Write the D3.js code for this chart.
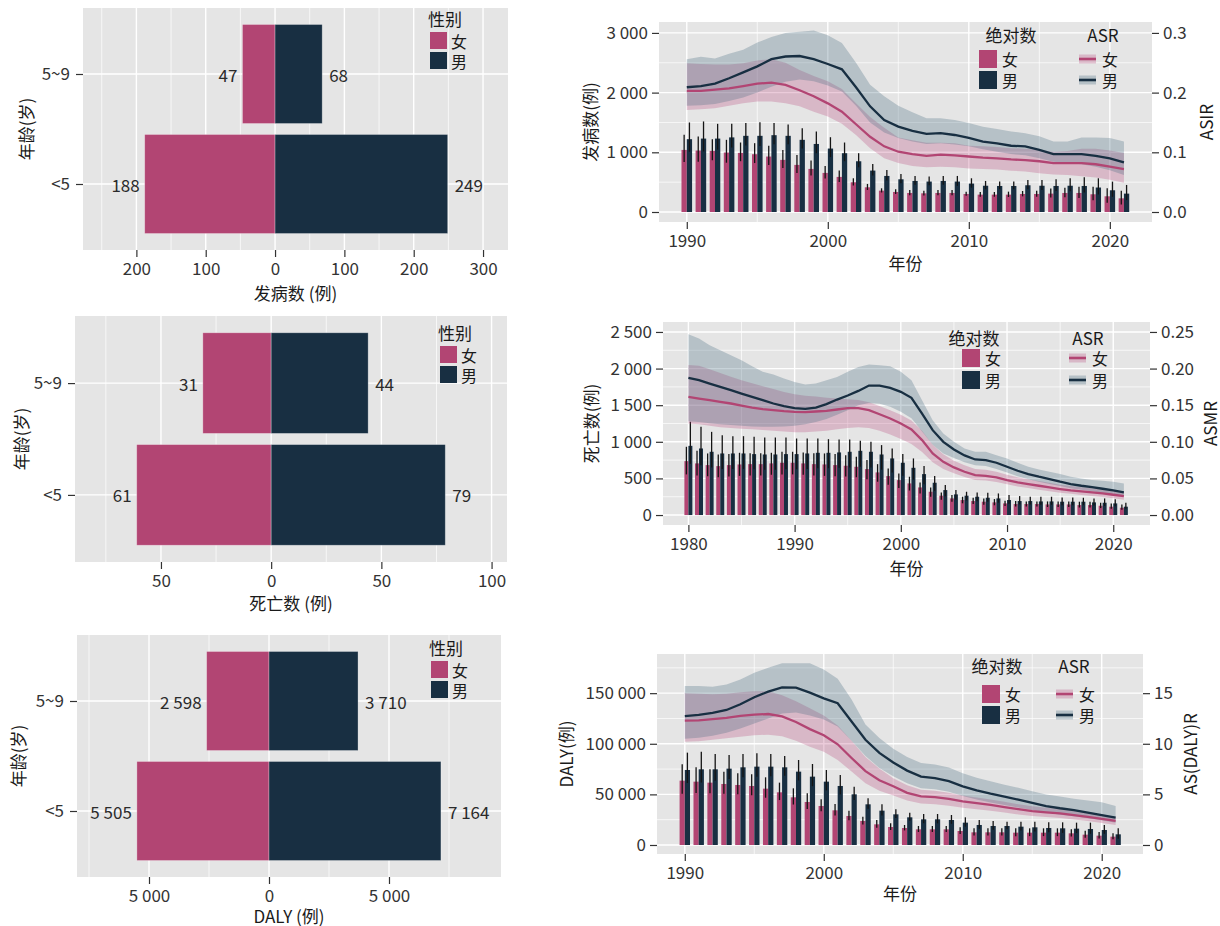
<!DOCTYPE html>
<html>
<head>
<meta charset="utf-8">
<script src="https://cdn.jsdelivr.net/npm/d3@7"></script>
<style>
  body { margin: 0; background: #fff; }
  svg text { font-family: "Noto Sans CJK SC", "Noto Sans", sans-serif; }
</style>
</head>
<body>
<svg id="chart" width="1220" height="926"></svg>
<script>
// ---------- age-group totals (butterfly panels) ----------
const AGES = ["5~9", "<5"];
const incAgeF = [47, 188];
const incAgeM = [68, 249];
const dthAgeF = [31, 61];
const dthAgeM = [44, 79];
const dalyAgeF = [2598, 5505];
const dalyAgeM = [3710, 7164];

// ---------- incidence by year, 1990–2021 ----------
const incYears = d3.range(1990, 2022);
const incF   = [1040,1030,1024,996,990,968,929,873,789,722, 655,588,498,414,358,336,319,313,319,319, 302,291,291,291,302,302,308,319,319,297, 263,229];
const incFHi = [1293,1265,1220,1209,1164,1153,1108,1040,957,862, 772,694,565,470,397,380,369,358,369,369, 341,335,335,341,352,358,392,408,425,425, 397,358];
const incFLo = [838,842,867,826,851,820,786,739,655,610, 561,503,444,369,327,301,279,277,279,279, 271,256,256,251,262,257,241,248,234,195, 156,126];
const incM   = [1220,1230,1230,1250,1276,1276,1287,1276,1209,1140, 1063,985,850,694,604,548,520,510,520,510, 476,440,436,436,448,440,436,440,436,410, 364,308];
const incMHi = [1500,1517,1477,1477,1489,1505,1489,1466,1405,1349, 1253,1164,985,806,705,638,604,593,604,604, 565,520,509,509,537,537,548,565,582,565, 509,453];
const incMLo = [1010,1015,1045,1080,1116,1104,1136,1133,1062,983, 920,851,749,610,528,480,457,448,457,439, 409,380,381,381,381,367,352,346,326,294, 255,199];
const incAsrF   = [.203,.203,.205,.207,.211,.215,.2166,.213,.204,.194, .182,.168,.147,.126,.110,.101,.097,.094,.096,.095, .093,.091,.090,.088,.087,.085,.082,.082,.082,.080, .076,.072];
const incAsrFHi = [.249,.248,.247,.247,.249,.254,.256,.250,.238,.228, .219,.206,.182,.159,.141,.125,.120,.116,.116,.115, .111,.110,.109,.107,.106,.104,.101,.102,.106,.106, .103,.099];
const incAsrFLo = [.171,.172,.174,.178,.182,.185,.185,.182,.177,.168, .160,.148,.129,.107,.090,.082,.077,.075,.076,.075, .073,.072,.071,.069,.068,.065,.063,.062,.060,.058, .054,.049];
const incAsrM   = [.209,.211,.215,.224,.234,.244,.256,.2605,.2613,.256, .248,.239,.209,.177,.154,.143,.136,.131,.132,.129, .124,.118,.115,.111,.110,.104,.097,.097,.097,.094, .090,.083];
const incAsrMHi = [.256,.260,.257,.265,.272,.284,.293,.300,.302,.304, .296,.283,.250,.213,.194,.178,.167,.157,.157,.154, .149,.143,.139,.135,.132,.127,.118,.118,.125,.125, .124,.118];
const incAsrMLo = [.178,.179,.181,.186,.192,.200,.210,.218,.222,.219, .212,.202,.178,.150,.133,.124,.118,.114,.115,.113, .110,.105,.101,.097,.095,.090,.084,.082,.080,.076, .070,.062];

// ---------- deaths by year, 1980–2021 ----------
const dthYears = d3.range(1980, 2022);
const dthF   = [736,705,682,668,682,691,695,695,705,714, 714,705,695,691,682,673,659,627,582,532, 477,432,377,318,264,227,205,191,182,173, 159,150,150,150,145,145,145,136,136,127, 114,100];
const dthFHi = [932,877,841,827,832,850,845,845,850,864, 864,855,845,841,832,818,795,750,695,636, 568,523,445,377,309,273,250,236,227,218, 195,191,186,186,186,186,186,182,182,168, 159,145];
const dthFLo = [555,540,530,515,525,535,540,540,550,555, 555,550,540,535,530,525,515,490,455,415, 370,335,295,250,210,180,160,150,140,133, 123,115,115,115,110,110,110,103,103,95, 85,72];
const dthM   = [945,909,864,841,841,841,832,827,827,832, 832,841,850,850,855,864,877,864,827,773, 714,645,559,441,341,282,264,250,236,227, 205,191,191,186,186,182,182,182,173,168, 159,114];
const dthMHi = [1273,1205,1136,1091,1077,1077,1068,1059,1059,1059, 1045,1045,1045,1036,1032,1032,1014,1000,955,909, 832,773,668,532,409,341,318,309,305,295, 273,259,250,250,250,241,241,236,227,227, 214,168];
const dthMLo = [700,680,650,630,630,630,625,620,620,625, 625,630,640,640,645,650,660,650,620,580, 535,485,420,330,255,210,200,190,180,170, 155,145,145,140,140,135,135,135,130,125, 120,85];
const dthAsrF   = [.1614,.1591,.1568,.1545,.1523,.1495,.1468,.1445,.1432,.1418, .1409,.1405,.1414,.1423,.1441,.1459,.1459,.1432,.1377,.1318, .1250,.1168,.1023,.0841,.0727,.0650,.0591,.0545,.0536,.0514, .0477,.0445,.0423,.0400,.0377,.0355,.0336,.0323,.0309,.0295, .0277,.0259];
const dthAsrFHi = [.205,.204,.199,.194,.189,.184,.180,.176,.172,.168, .165,.163,.162,.160,.159,.158,.157,.154,.149,.143, .137,.129,.115,.096,.083,.074,.068,.063,.062,.059, .055,.0515,.049,.0465,.044,.0415,.0395,.038,.0365,.035, .033,.031];
const dthAsrFLo = [.125,.124,.122,.120,.119,.118,.117,.116,.115,.114, .113,.113,.114,.115,.117,.119,.120,.119,.115,.110, .104,.097,.086,.072,.063,.057,.052,.048,.047,.045, .042,.039,.037,.0345,.0325,.0305,.029,.0275,.026,.0245, .023,.021];
const dthAsrM   = [.1873,.1841,.1795,.1750,.1705,.1659,.1614,.1568,.1523,.1486, .1459,.1450,.1468,.1514,.1577,.1632,.1695,.1768,.1768,.1736, .1682,.1600,.1386,.1159,.1000,.0895,.0814,.0759,.0750,.0714, .0659,.0605,.0559,.0523,.0491,.0455,.0423,.0400,.0382,.0359, .0336,.0309];
const dthAsrMHi = [.2468,.2409,.2318,.2250,.2182,.2114,.2032,.1955,.1918,.1864, .1818,.1782,.1795,.1841,.1886,.1955,.2023,.2055,.2045,.2032, .1955,.1841,.1568,.1295,.1114,.1000,.0909,.0864,.0864,.0818, .0773,.0714,.0659,.0623,.0591,.0559,.0523,.0500,.0477,.0468, .0455,.0432];
const dthAsrMLo = [.128,.127,.1255,.124,.123,.122,.121,.1205,.1205,.121, .122,.124,.127,.131,.137,.143,.150,.153,.152,.148, .141,.132,.114,.096,.084,.078,.072,.068,.067,.063, .058,.053,.049,.0455,.0425,.0395,.0365,.0345,.0325,.030, .028,.025];

// ---------- DALY by year, 1990–2021 ----------
const dalyYears = d3.range(1990, 2022);
const dalyF   = [63574,62586,61598,60280,59292,58304,55669,52045,47104,42493, 38540,34258,28658,23717,20423,17788,16799,15482,15482,15482, 13835,12517,12517,12517,12188,12188,12188,12188,11529,10211, 9223,8235];
const dalyFHi = [79715,76750,74774,72468,70821,69833,66868,61598,55998,51057, 45128,40516,33928,27999,24705,21411,19764,18776,18776,18776, 17458,16470,16470,16470,16470,16470,16470,16470,15482,14164, 12847,11529];
const dalyFLo = [50660,51260,51060,50530,50070,49080,46710,44400,39990,35640, 33270,29250,24440,20290,17000,14890,14430,12850,12850,12850, 10940,9360,9360,9360,8760,8760,8760,8760,8370,7050, 6320,5600];
const dalyM   = [74115,74774,74774,75433,76750,77409,77409,76750,72468,67527, 62586,58304,50069,40187,33928,30305,27340,25364,25364,24705, 22070,19764,18776,18776,18117,17458,16799,16470,16141,15811, 14823,10541];
const dalyMHi = [91244,92232,89926,88938,89926,90585,89926,87950,84000,80044, 74115,69174,57645,46116,40187,35246,31952,30634,30634,29646, 27340,24705,23717,23058,23058,23058,22399,22399,22070,22070, 19764,16470];
const dalyMLo = [61270,61680,63410,65300,66870,67530,68020,68350,63820,58140, 53940,50150,44390,35740,29230,26600,23880,21410,21410,21000, 18120,16060,15070,15560,14410,13260,12600,12020,11700,11120, 11120,6090];
const dalyAsrF   = [12.28,12.32,12.43,12.55,12.75,12.88,12.94,12.70,12.15,11.45, 10.85,9.95,8.6,7.3,6.4,5.8,5.15,4.8,4.73,4.55, 4.32,4.13,3.96,3.75,3.54,3.35,3.23,3.12,2.96,2.78, 2.58,2.38];
const dalyAsrFHi = [15.0,14.95,14.9,14.95,15.1,15.2,15.2,14.8,14.2,13.5, 12.8,11.8,10.3,8.7,7.55,6.6,5.9,5.45,5.35,5.15, 4.9,4.68,4.5,4.27,4.03,3.82,3.68,3.57,3.4,3.22, 3.0,2.78];
const dalyAsrFLo = [10.2,10.25,10.4,10.55,10.7,10.85,10.9,10.75,10.3,9.7, 9.2,8.4,7.25,6.1,5.35,4.9,4.4,4.1,4.03,3.88, 3.68,3.52,3.38,3.2,3.02,2.86,2.76,2.66,2.52,2.36, 2.18,1.98];
const dalyAsrM   = [12.74,12.85,13.05,13.34,13.9,14.6,15.15,15.57,15.55,15.05, 14.49,14.0,12.2,10.4,9.1,8.15,7.35,6.75,6.6,6.3, 5.8,5.4,5.07,4.78,4.48,4.15,3.85,3.63,3.45,3.2, 2.95,2.7];
const dalyAsrMHi = [15.7,15.7,15.63,15.86,16.36,17.02,17.52,17.95,17.95,17.95, 17.35,16.43,14.38,11.9,10.58,9.5,8.7,8.1,7.95,7.65, 7.1,6.65,6.3,5.95,5.65,5.3,5.0,4.8,4.58,4.4, 4.23,3.85];
const dalyAsrMLo = [10.5,10.6,10.8,11.1,11.5,12.0,12.5,13.0,13.1,12.8, 12.4,11.7,10.3,8.8,7.6,6.8,6.1,5.6,5.5,5.25, 4.85,4.5,4.2,3.95,3.7,3.45,3.2,3.0,2.85,2.65, 2.45,2.2];

// ---------- look ----------
const FEMALE = "#B24573";
const MALE = "#182F42";
const RIB_F = "#B8447A";
const RIB_M = "#4A6C80";
const PANEL_BG = "#E5E5E5";
const FS = 17;
const FONT = '"Noto Sans CJK SC", "Noto Sans", sans-serif';

const fmtNum = d3.formatLocale({ decimal: ".", thousands: "\u00a0", grouping: [3], currency: ["", ""] }).format(",");
const svg = d3.select("#chart");

function styleAxis(g) {
  g.attr("font-family", FONT).attr("font-size", FS);
  g.select(".domain").remove();
  g.selectAll(".tick line").attr("stroke", "#333").attr("stroke-width", 1.2);
  g.selectAll(".tick text").attr("fill", "#333");
}

function gridLines(g, x0, x1, y0, y1, xs, ys, width) {
  g.append("g").selectAll("line").data(xs).join("line")
    .attr("x1", d => d.px).attr("x2", d => d.px).attr("y1", y0).attr("y2", y1)
    .attr("stroke", "#fff").attr("stroke-width", width);
  g.append("g").selectAll("line").data(ys).join("line")
    .attr("y1", d => d.px).attr("y2", d => d.px).attr("x1", x0).attr("x2", x1)
    .attr("stroke", "#fff").attr("stroke-width", width);
}

function addText(g, txt, x, y, opts = {}) {
  const t = g.append("text").text(txt)
    .attr("font-size", opts.size || FS).attr("fill", opts.fill || "#1a1a1a")
    .attr("text-anchor", opts.anchor || "middle")
    .attr("dominant-baseline", "central");
  if (opts.rotate) t.attr("transform", `translate(${x},${y}) rotate(${opts.rotate})`);
  else t.attr("x", x).attr("y", y);
  return t;
}

// ---------- butterfly panel: female bars to the left, male to the right ----------
function butterfly(p) {
  const g = svg.append("g");
  const { x0, x1, y0, y1 } = p.box;
  const x = d3.scaleLinear().domain(p.domain).range([x0, x1]);
  const y = d3.scalePoint().domain(AGES).range([y0, y1]).padding(0.6);
  const bh = y.step() * 0.9;

  g.append("rect").attr("x", x0).attr("y", y0).attr("width", x1 - x0).attr("height", y1 - y0).attr("fill", PANEL_BG);
  gridLines(g, x0, x1, y0, y1, p.minor.map(v => ({ px: x(v) })), [], 0.7);
  gridLines(g, x0, x1, y0, y1, p.ticks.map(v => ({ px: x(v) })), AGES.map(a => ({ px: y(a) })), 1.4);

  const rows = AGES.map((a, i) => ({ age: a, f: p.female[i], m: p.male[i] }));
  g.selectAll(".bf").data(rows).join("rect")
    .attr("x", d => x(-d.f)).attr("width", d => x(0) - x(-d.f))
    .attr("y", d => y(d.age) - bh / 2).attr("height", bh)
    .attr("fill", FEMALE).attr("stroke", "rgba(255,255,255,0.35)").attr("stroke-width", 0.8);
  g.selectAll(".bm").data(rows).join("rect")
    .attr("x", x(0)).attr("width", d => x(d.m) - x(0))
    .attr("y", d => y(d.age) - bh / 2).attr("height", bh)
    .attr("fill", MALE).attr("stroke", "rgba(255,255,255,0.35)").attr("stroke-width", 0.8);

  rows.forEach(d => {
    addText(g, fmtNum(d.f), x(-d.f) - 5, y(d.age), { anchor: "end", fill: "#2b2b2b" });
    addText(g, fmtNum(d.m), x(d.m) + 7, y(d.age), { anchor: "start", fill: "#2b2b2b" });
  });

  g.append("g").attr("transform", `translate(0,${y1})`)
    .call(d3.axisBottom(x).tickValues(p.ticks).tickFormat(v => fmtNum(Math.abs(v))).tickSize(7).tickPadding(6))
    .call(styleAxis);
  g.append("g").attr("transform", `translate(${x0},0)`)
    .call(d3.axisLeft(y).tickSize(7).tickPadding(6))
    .call(styleAxis);

  addText(g, p.xTitle, (x0 + x1) / 2, p.xTitleY);
  addText(g, "年龄(岁)", p.yTitleX, (y0 + y1) / 2, { rotate: -90 });

  // legend
  const L = p.legend;
  addText(g, "性别", L.x, L.y, { anchor: "start" });
  [["女", FEMALE], ["男", MALE]].forEach(([lab, col], i) => {
    const ky = L.y + 14 + i * 20;
    g.append("rect").attr("x", L.x + 2).attr("y", ky).attr("width", 17).attr("height", 17).attr("fill", col);
    addText(g, lab, L.x + 23, ky + 8.5, { anchor: "start", size: 16 });
  });
}

// ---------- trend panel: dodged bars with error bars + ASR ribbons ----------
function trendPanel(p) {
  const g = svg.append("g");
  const { x0, x1, y0, y1 } = p.box;
  const x = d3.scaleLinear().domain(p.xDomain).range([x0, x1]);
  const y = d3.scaleLinear().domain(p.yDomain).range([y1, y0]);
  const yR = d3.scaleLinear().domain(p.yDomain.map(v => v / p.factor)).range([y1, y0]);

  g.append("rect").attr("x", x0).attr("y", y0).attr("width", x1 - x0).attr("height", y1 - y0).attr("fill", PANEL_BG);
  gridLines(g, x0, x1, y0, y1, p.xMinor.map(v => ({ px: x(v) })), p.yMinor.map(v => ({ px: y(v) })), 0.7);
  gridLines(g, x0, x1, y0, y1, p.xTicks.map(v => ({ px: x(v) })), p.yTicks.map(v => ({ px: y(v) })), 1.4);

  const rows = p.years.map((yr, i) => ({
    yr, f: p.f[i], fLo: p.fLo[i], fHi: p.fHi[i], m: p.m[i], mLo: p.mLo[i], mHi: p.mHi[i],
    af: p.af[i], afLo: p.afLo[i], afHi: p.afHi[i], am: p.am[i], amLo: p.amLo[i], amHi: p.amHi[i]
  }));
  const half = 0.375;
  const bw = x(half) - x(0);

  g.append("g").selectAll("rect").data(rows).join("rect")
    .attr("x", d => x(d.yr - half)).attr("width", bw)
    .attr("y", d => y(d.f)).attr("height", d => y(0) - y(d.f)).attr("fill", FEMALE);
  g.append("g").selectAll("rect").data(rows).join("rect")
    .attr("x", d => x(d.yr)).attr("width", bw)
    .attr("y", d => y(d.m)).attr("height", d => y(0) - y(d.m)).attr("fill", MALE);

  const eb = g.append("g").attr("stroke", "#141414").attr("stroke-width", 1.3);
  eb.selectAll(".ef").data(rows).join("line")
    .attr("x1", d => x(d.yr - half / 2)).attr("x2", d => x(d.yr - half / 2))
    .attr("y1", d => y(d.fLo)).attr("y2", d => y(d.fHi));
  eb.selectAll(".em").data(rows).join("line")
    .attr("x1", d => x(d.yr + half / 2)).attr("x2", d => x(d.yr + half / 2))
    .attr("y1", d => y(d.mLo)).attr("y2", d => y(d.mHi));

  const areaF = d3.area().x(d => x(d.yr)).y0(d => yR(d.afLo)).y1(d => yR(d.afHi));
  const areaM = d3.area().x(d => x(d.yr)).y0(d => yR(d.amLo)).y1(d => yR(d.amHi));
  g.append("path").datum(rows).attr("d", areaF).attr("fill", RIB_F).attr("fill-opacity", 0.28);
  g.append("path").datum(rows).attr("d", areaM).attr("fill", RIB_M).attr("fill-opacity", 0.3);

  const lineF = d3.line().x(d => x(d.yr)).y(d => yR(d.af));
  const lineM = d3.line().x(d => x(d.yr)).y(d => yR(d.am));
  g.append("path").datum(rows).attr("d", lineF).attr("fill", "none").attr("stroke", FEMALE).attr("stroke-width", 2.3);
  g.append("path").datum(rows).attr("d", lineM).attr("fill", "none").attr("stroke", MALE).attr("stroke-width", 2.3);

  g.append("g").attr("transform", `translate(0,${y1})`)
    .call(d3.axisBottom(x).tickValues(p.xTicks).tickFormat(d3.format("d")).tickSize(7).tickPadding(6))
    .call(styleAxis);
  g.append("g").attr("transform", `translate(${x0},0)`)
    .call(d3.axisLeft(y).tickValues(p.yTicks).tickFormat(fmtNum).tickSize(7).tickPadding(4))
    .call(styleAxis);
  g.append("g").attr("transform", `translate(${x1},0)`)
    .call(d3.axisRight(yR).tickValues(p.rTicks).tickFormat(p.rFmt).tickSize(7).tickPadding(4))
    .call(styleAxis);

  addText(g, "年份", (x0 + x1) / 2, p.xTitleY);
  addText(g, p.yTitle, p.yTitleX, (y0 + y1) / 2, { rotate: -90 });
  addText(g, p.rTitle, p.rTitleX, (y0 + y1) / 2, { rotate: -90 });

  // legend: absolute counts (fill) and ASR (line over ribbon)
  const L = p.legend;
  addText(g, "绝对数", L.absX, L.titleY);
  addText(g, "ASR", L.asrX, L.titleY);
  [["女", FEMALE, RIB_F, 0.28], ["男", MALE, RIB_M, 0.3]].forEach(([lab, col, rib, op], i) => {
    const top = L.keyTop + i * L.pitch;
    const cy = top + 9;
    g.append("rect").attr("x", L.keyX).attr("y", top).attr("width", 18).attr("height", 18).attr("fill", col);
    addText(g, lab, L.keyX + 23, cy, { anchor: "start", size: 16 });
    g.append("rect").attr("x", L.asrKeyX).attr("y", cy - 4.5).attr("width", 17).attr("height", 9)
      .attr("fill", rib).attr("fill-opacity", op);
    g.append("line").attr("x1", L.asrKeyX).attr("x2", L.asrKeyX + 17).attr("y1", cy).attr("y2", cy)
      .attr("stroke", col).attr("stroke-width", 2.6);
    addText(g, lab, L.asrKeyX + 23, cy, { anchor: "start", size: 16 });
  });
}

// ---------- left column ----------
butterfly({
  box: { x0: 83, x1: 508, y0: 8, y1: 250 }, domain: [-277, 336],
  ticks: [-200, -100, 0, 100, 200, 300], minor: [-250, -150, -50, 50, 150, 250],
  female: incAgeF, male: incAgeM, xTitle: "发病数 (例)", xTitleY: 292, yTitleX: 25,
  legend: { x: 428, y: 18 }
});
butterfly({
  box: { x0: 75, x1: 507, y0: 316, y1: 562 }, domain: [-89, 107],
  ticks: [-50, 0, 50, 100], minor: [-75, -25, 25, 75],
  female: dthAgeF, male: dthAgeM, xTitle: "死亡数 (例)", xTitleY: 602, yTitleX: 20,
  legend: { x: 438, y: 332 }
});
butterfly({
  box: { x0: 77, x1: 501, y0: 635, y1: 877 }, domain: [-8000, 9667],
  ticks: [-5000, 0, 5000], minor: [-7500, -2500, 2500, 7500],
  female: dalyAgeF, male: dalyAgeM, xTitle: "DALY (例)", xTitleY: 915, yTitleX: 17,
  legend: { x: 429, y: 647 }
});

// ---------- right column ----------
trendPanel({
  box: { x0: 659, x1: 1152, y0: 22, y1: 222 }, xDomain: [1988.03, 2022.99], yDomain: [-167.5, 3183],
  xTicks: [1990, 2000, 2010, 2020], xMinor: [1995, 2005, 2015],
  yTicks: [0, 1000, 2000, 3000], yMinor: [500, 1500, 2500],
  factor: 10000, rTicks: [0, 0.1, 0.2, 0.3], rFmt: d3.format(".1f"),
  years: incYears, f: incF, fLo: incFLo, fHi: incFHi, m: incM, mLo: incMLo, mHi: incMHi,
  af: incAsrF, afLo: incAsrFLo, afHi: incAsrFHi, am: incAsrM, amLo: incAsrMLo, amHi: incAsrMHi,
  yTitle: "发病数(例)", yTitleX: 589, rTitle: "ASIR", rTitleX: 1205, xTitleY: 262,
  legend: { absX: 1011, asrX: 1103, titleY: 34, keyX: 979, keyTop: 50, pitch: 21, asrKeyX: 1079 }
});
trendPanel({
  box: { x0: 663, x1: 1150, y0: 322, y1: 525 }, xDomain: [1977.61, 2023.46], yDomain: [-136, 2636],
  xTicks: [1980, 1990, 2000, 2010, 2020], xMinor: [1985, 1995, 2005, 2015],
  yTicks: [0, 500, 1000, 1500, 2000, 2500], yMinor: [250, 750, 1250, 1750, 2250],
  factor: 10000, rTicks: [0, 0.05, 0.10, 0.15, 0.20, 0.25], rFmt: d3.format(".2f"),
  years: dthYears, f: dthF, fLo: dthFLo, fHi: dthFHi, m: dthM, mLo: dthMLo, mHi: dthMHi,
  af: dthAsrF, afLo: dthAsrFLo, afHi: dthAsrFHi, am: dthAsrM, amLo: dthAsrMLo, amHi: dthAsrMHi,
  yTitle: "死亡数(例)", yTitleX: 590, rTitle: "ASMR", rTitleX: 1209, xTitleY: 567,
  legend: { absX: 974, asrX: 1088, titleY: 337, keyX: 962, keyTop: 349, pitch: 22, asrKeyX: 1069 }
});
trendPanel({
  box: { x0: 657, x1: 1143, y0: 654, y1: 854 }, xDomain: [1988.0, 2022.97], yDomain: [-8900, 188700],
  xTicks: [1990, 2000, 2010, 2020], xMinor: [1995, 2005, 2015],
  yTicks: [0, 50000, 100000, 150000], yMinor: [25000, 75000, 125000, 175000],
  factor: 10000, rTicks: [0, 5, 10, 15], rFmt: d3.format("d"),
  years: dalyYears, f: dalyF, fLo: dalyFLo, fHi: dalyFHi, m: dalyM, mLo: dalyMLo, mHi: dalyMHi,
  af: dalyAsrF, afLo: dalyAsrFLo, afHi: dalyAsrFHi, am: dalyAsrM, amLo: dalyAsrMLo, amHi: dalyAsrMHi,
  yTitle: "DALY(例)", yTitleX: 565, rTitle: "AS(DALY)R", rTitleX: 1189, xTitleY: 892,
  legend: { absX: 997, asrX: 1074, titleY: 665, keyX: 982, keyTop: 685, pitch: 21, asrKeyX: 1056 }
});
</script>
</body>
</html>
